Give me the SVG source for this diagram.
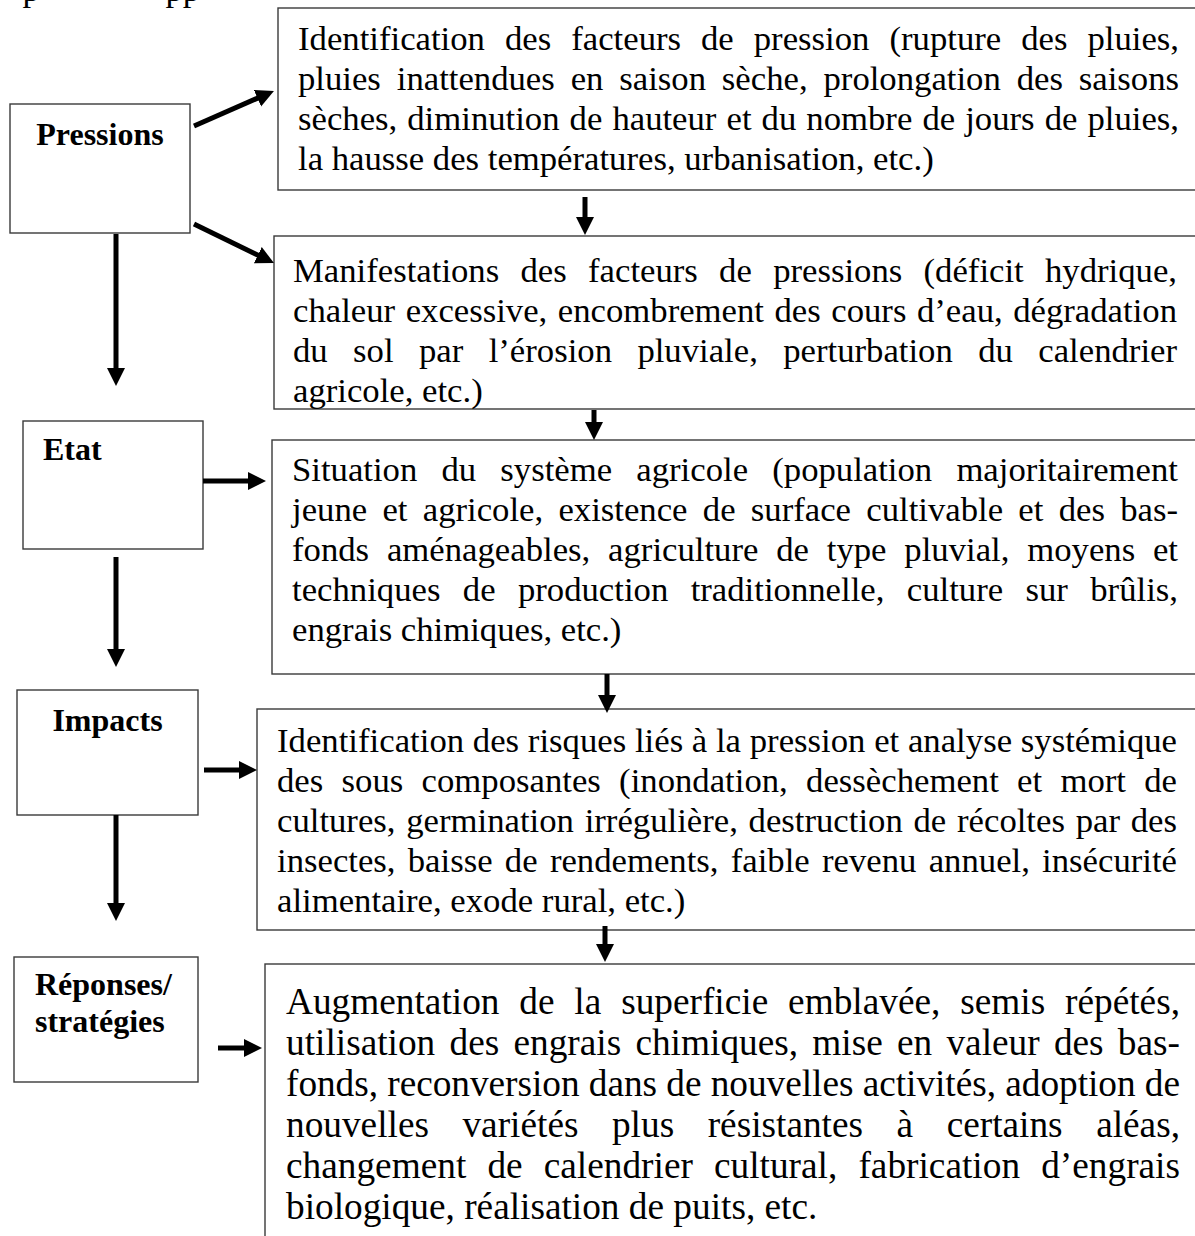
<svg xmlns="http://www.w3.org/2000/svg" width="1195" height="1236" viewBox="0 0 1195 1236">
<style>
.box{fill:#fff;stroke:#3a3a3a;stroke-width:1.4}
.t{font-family:"Liberation Serif","Times New Roman",serif;font-size:34.7px;fill:#000}
.big{font-size:37.3px}
.lab{font-family:"Liberation Serif","Times New Roman",serif;font-size:32px;font-weight:bold;fill:#000}
.ar{stroke:#000;stroke-width:5;fill:none;marker-end:url(#ah)}
</style>
<defs>
<marker id="ah" markerUnits="userSpaceOnUse" markerWidth="20" markerHeight="20" refX="2" refY="9" orient="auto" viewBox="0 0 20 18">
<path d="M0,0 L18,9 L0,18 z" fill="#000"/>
</marker>
</defs>
<rect width="1195" height="1236" fill="#fff"/>
<text class="t" x="22.5" y="1">p</text>
<text class="t" x="165.5" y="1">pp</text>

<g id="pressions">
<rect class="box" x="10" y="104" width="180" height="129"/>
<text class="lab" x="100" y="145" text-anchor="middle">Pressions</text>
</g>
<g id="etat">
<rect class="box" x="23" y="421" width="180" height="128"/>
<text class="lab" x="43" y="460">Etat</text>
</g>
<g id="impacts">
<rect class="box" x="17" y="690" width="181" height="125"/>
<text class="lab" x="107.5" y="731" text-anchor="middle">Impacts</text>
</g>
<g id="reponses">
<rect class="box" x="14" y="957" width="184" height="125"/>
<text class="lab" x="35" y="995">Réponses/</text>
<text class="lab" x="35" y="1032">stratégies</text>
</g>

<g id="box1">
<rect class="box" x="278" y="8" width="940" height="182"/>
<text class="t" x="298" y="50" textLength="881" lengthAdjust="spacing" style="word-spacing:11.3px">Identification des facteurs de pression (rupture des pluies,</text>
<text class="t" x="298" y="90" textLength="881" lengthAdjust="spacing" style="word-spacing:7.2px">pluies inattendues en saison sèche, prolongation des saisons</text>
<text class="t" x="298" y="130" textLength="881" lengthAdjust="spacing" style="word-spacing:1.4px">sèches, diminution de hauteur et du nombre de jours de pluies,</text>
<text class="t" x="298" y="170">la hausse des températures, urbanisation, etc.)</text>
</g>
<g id="box2">
<rect class="box" x="274" y="236" width="940" height="173"/>
<text class="t" x="293" y="282" textLength="884" lengthAdjust="spacing" style="word-spacing:12.6px">Manifestations des facteurs de pressions (déficit hydrique,</text>
<text class="t" x="293" y="322" textLength="884" lengthAdjust="spacing" style="word-spacing:1.8px">chaleur excessive, encombrement des cours d’eau, dégradation</text>
<text class="t" x="293" y="362" textLength="884" lengthAdjust="spacing" style="word-spacing:16.7px">du sol par l’érosion pluviale, perturbation du calendrier</text>
<text class="t" x="293" y="402">agricole, etc.)</text>
</g>
<g id="box3">
<rect class="box" x="272" y="440" width="940" height="234"/>
<text class="t" x="292" y="481" textLength="886" lengthAdjust="spacing" style="word-spacing:15.5px">Situation du système agricole (population majoritairement</text>
<text class="t" x="292" y="521" textLength="886" lengthAdjust="spacing" style="word-spacing:6.6px">jeune et agricole, existence de surface cultivable et des bas-</text>
<text class="t" x="292" y="561" textLength="886" lengthAdjust="spacing" style="word-spacing:9.1px">fonds aménageables, agriculture de type pluvial, moyens et</text>
<text class="t" x="292" y="601" textLength="886" lengthAdjust="spacing" style="word-spacing:13.7px">techniques de production traditionnelle, culture sur brûlis,</text>
<text class="t" x="292" y="641">engrais chimiques, etc.)</text>
</g>
<g id="box4">
<rect class="box" x="257" y="709" width="960" height="221"/>
<text class="t" x="277" y="752" textLength="900" lengthAdjust="spacing">Identification des risques liés à la pression et analyse systémique</text>
<text class="t" x="277" y="792" textLength="900" lengthAdjust="spacing" style="word-spacing:9.6px">des sous composantes (inondation, dessèchement et mort de</text>
<text class="t" x="277" y="832" textLength="900" lengthAdjust="spacing" style="word-spacing:2.1px">cultures, germination irrégulière, destruction de récoltes par des</text>
<text class="t" x="277" y="872" textLength="900" lengthAdjust="spacing" style="word-spacing:3.6px">insectes, baisse de rendements, faible revenu annuel, insécurité</text>
<text class="t" x="277" y="912">alimentaire, exode rural, etc.)</text>
</g>
<g id="box5">
<rect class="box" x="265" y="964" width="950" height="300"/>
<text class="t big" x="286" y="1014" textLength="894" lengthAdjust="spacing" style="word-spacing:10.5px">Augmentation de la superficie emblavée, semis répétés,</text>
<text class="t big" x="286" y="1055" textLength="894" lengthAdjust="spacing" style="word-spacing:4.9px">utilisation des engrais chimiques, mise en valeur des bas-</text>
<text class="t big" x="286" y="1096" textLength="894" lengthAdjust="spacing">fonds, reconversion dans de nouvelles activités, adoption de</text>
<text class="t big" x="286" y="1137" textLength="894" lengthAdjust="spacing" style="word-spacing:24.2px">nouvelles variétés plus résistantes à certains aléas,</text>
<text class="t big" x="286" y="1178" textLength="894" lengthAdjust="spacing" style="word-spacing:11.8px">changement de calendrier cultural, fabrication d’engrais</text>
<text class="t big" x="286" y="1219">biologique, réalisation de puits, etc.</text>
</g>

<g id="connectors">
<path class="ar" d="M194,126 L259.3,97.4"/>
<path class="ar" d="M194,224 L259.6,256"/>
<path class="ar" d="M585,197 L585,219"/>
<path class="ar" d="M116,234 L116,370"/>
<path class="ar" d="M594,410 L594,424"/>
<path class="ar" d="M203,481 L250,481"/>
<path class="ar" d="M116,557 L116,651"/>
<path class="ar" d="M607,674 L607,697"/>
<path class="ar" d="M204,770 L241,770"/>
<path class="ar" d="M116,815 L116,905"/>
<path class="ar" d="M605,926 L605,946"/>
<path class="ar" d="M218,1048 L246,1048"/>
</g>
</svg>
